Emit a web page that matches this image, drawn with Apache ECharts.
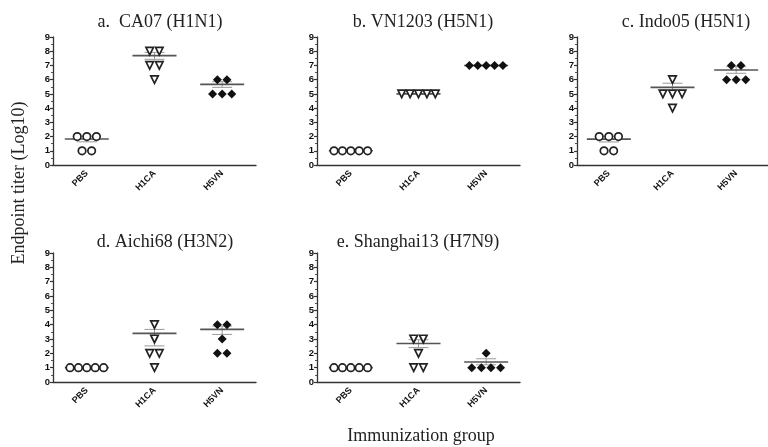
<!DOCTYPE html>
<html>
<head>
<meta charset="utf-8">
<script src="https://cdn.jsdelivr.net/npm/echarts@6/dist/echarts.min.js"></script>
<style>html,body{margin:0;padding:0;background:#fff}#c{width:768px;height:447px}</style>
</head>
<body>
<div id="c"></div>
<script>
const categories = ['PBS', 'H1CA', 'H5VN'];
const panelTitles = ['a.  CA07 (H1N1)', 'b. VN1203 (H5N1)', 'c. Indo05 (H5N1)', 'd. Aichi68 (H3N2)', 'e. Shanghai13 (H7N9)'];
const yTicks = [0, 1, 2, 3, 4, 5, 6, 7, 8, 9];
const pbsValues  = [[2,2,2,1,1],[1,1,1,1,1],[2,2,2,1,1],[1,1,1,1,1],[1,1,1,1,1]];
const h1caValues = [[8,8,7,7,6],[5,5,5,5,5],[6,5,5,5,4],[4,3,2,2,1],[3,3,2,1,1]];
const h5vnValues = [[6,6,5,5,5],[7,7,7,7,7],[7,7,6,6,6],[4,4,3,2,2],[2,1,1,1,1]];
const meanValues = [[1.83,7.69,5.67],[1,5,7],[1.82,5.46,6.68],[1,3.39,3.67],[1,2.69,1.4]];
const lowerValues = [[1.63,7.43,5.46],[1,5,7],[1.62,5.25,6.45],[1,2.52,3.32],[1,2.4,1.2]];
const upperValues = [[2.03,7.92,5.86],[1,5,7],[2.02,5.75,6.91],[1,3.67,3.9],[1,2.95,1.62]];
const yAxisName = 'Endpoint titer (Log10)';
const xAxisName = 'Immunization group';

const grids = [
  {left: 53, top: 37, width: 203, height: 128},
  {left: 317, top: 37, width: 203, height: 128},
  {left: 577, top: 37, width: 203, height: 128},
  {left: 53, top: 253, width: 203, height: 129},
  {left: 317, top: 253, width: 203, height: 129}
];
const titlePos = [[155, 8], [418, 8], [681, 8], [160, 228], [413, 228]];

const groupValues = [pbsValues, h1caValues, h5vnValues];
const symbols = [
  {symbol: 'circle', rotate: 0, fill: '#fff', border: '#222'},
  {symbol: 'triangle', rotate: 180, fill: '#fff', border: '#222'},
  {symbol: 'diamond', rotate: 0, fill: '#111', border: '#111'}
];

function swarm(vals, cat) {
  // horizontal spread of equal values (beeswarm-like layout)
  const counts = {}, seen = {};
  vals.forEach(v => counts[v] = (counts[v] || 0) + 1);
  return vals.map(v => {
    const n = counts[v];
    const k = seen[v] = (seen[v] === undefined ? 0 : seen[v] + 1);
    const sp = n >= 5 ? 8.4 : 9.6;
    return {value: [cat, v], symbolOffset: [(k - (n - 1) / 2) * sp, 0]};
  });
}

const font = 'Liberation Sans, Arial, sans-serif';
const serif = 'Liberation Serif, Times New Roman, serif';
const xAxes = [], yAxes = [], series = [], titles = [];
grids.forEach((g, i) => {
  xAxes.push({
    type: 'category', gridIndex: i, data: categories, boundaryGap: true,
    axisLine: {lineStyle: {color: '#333', width: 1.3}},
    axisTick: {alignWithLabel: true, length: 4, lineStyle: {color: '#333', width: 1.2}},
    axisLabel: {rotate: 45, fontSize: 9, fontWeight: 'bold', fontFamily: font, color: '#111', margin: 7}
  });
  yAxes.push({
    type: 'value', gridIndex: i, min: yTicks[0], max: yTicks[yTicks.length - 1], interval: 1,
    axisLine: {show: true, lineStyle: {color: '#333', width: 1.3}},
    axisTick: {show: true, length: 3, lineStyle: {color: '#333', width: 1.2}},
    minorTick: {show: true, splitNumber: 2, length: 2, lineStyle: {color: '#555'}},
    splitLine: {show: false},
    axisLabel: {fontSize: 9.5, fontWeight: 'bold', fontFamily: font, color: '#111', margin: 3}
  });
  titles.push({
    text: panelTitles[i], left: titlePos[i][0], top: titlePos[i][1], textAlign: 'center',
    textStyle: {fontFamily: serif, fontSize: 18, fontWeight: 'normal', color: '#222'}
  });
  series.push({
    type: 'custom', xAxisIndex: i, yAxisIndex: i, z: 1,
    data: categories.map((c, j) => [j, meanValues[i][j], lowerValues[i][j], upperValues[i][j]]),
    renderItem: function (params, api) {
      const m = api.coord([api.value(0), api.value(1)]);
      const lo = api.coord([api.value(0), api.value(2)]);
      const hi = api.coord([api.value(0), api.value(3)]);
      const gray = {stroke: '#999', lineWidth: 1};
      return {type: 'group', children: [
        {type: 'line', shape: {x1: m[0], y1: hi[1], x2: m[0], y2: lo[1]}, style: gray},
        {type: 'line', shape: {x1: m[0] - 10, y1: hi[1], x2: m[0] + 10, y2: hi[1]}, style: gray},
        {type: 'line', shape: {x1: m[0] - 10, y1: lo[1], x2: m[0] + 10, y2: lo[1]}, style: gray},
        {type: 'line', shape: {x1: m[0] - 22, y1: m[1], x2: m[0] + 22, y2: m[1]}, style: {stroke: '#555', lineWidth: 1.6}}
      ]};
    }
  });
  groupValues.forEach((gv, j) => {
    const s = symbols[j];
    series.push({
      type: 'scatter', xAxisIndex: i, yAxisIndex: i, z: 3,
      symbol: s.symbol, symbolRotate: s.rotate, symbolSize: s.symbol === 'diamond' ? 9 : 7.5,
      itemStyle: {color: s.fill, borderColor: s.border, borderWidth: s.symbol === 'diamond' ? 0 : 1.7, opacity: 1},
      emphasis: {disabled: true},
      data: swarm(gv[i], j)
    });
  });
});

const chart = echarts.init(document.getElementById('c'), null, {renderer: 'canvas'});
chart.setOption({
  animation: false,
  backgroundColor: '#fff',
  title: titles,
  grid: grids,
  xAxis: xAxes,
  yAxis: yAxes,
  series: series,
  graphic: [
    {type: 'text', x: 19, y: 183, rotation: Math.PI / 2,
     style: {text: yAxisName, fontFamily: serif, fontSize: 18, fill: '#222', align: 'center', verticalAlign: 'middle'}},
    {type: 'text', x: 421, y: 436,
     style: {text: xAxisName, fontFamily: serif, fontSize: 18, fill: '#222', align: 'center', verticalAlign: 'middle'}}
  ]
});
</script>
</body>
</html>
